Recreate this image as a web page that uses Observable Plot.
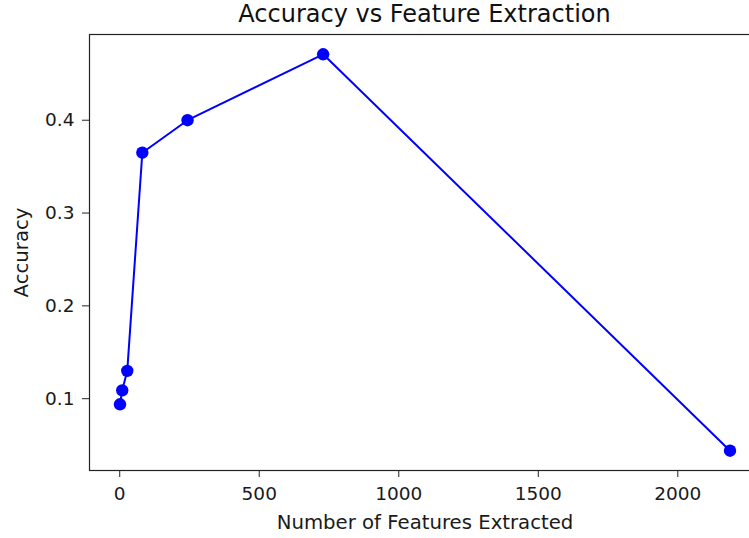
<!DOCTYPE html>
<html>
<head>
<meta charset="utf-8">
<script src="https://cdn.jsdelivr.net/npm/d3@7"></script>
<script src="https://cdn.jsdelivr.net/npm/@observablehq/plot@0.6"></script>
<style>
  html, body { margin: 0; padding: 0; background: #fff; overflow: hidden; width: 749px; height: 538px; }
  #title {
    position: absolute; top: -1px; left: 0; width: 849px; height: 30px;
    text-align: center; font: 24px "DejaVu Sans", sans-serif; line-height: 30px; color: #111;
  }
  #chart { position: absolute; top: 30px; left: 0; width: 762px; }
  #chart svg { max-width: none !important; }
</style>
</head>
<body>
<div id="title">Accuracy vs Feature Extraction</div>
<div id="chart"></div>
<script>
// Number of extracted features and the accuracy obtained with each
const features = [1, 9, 27, 81, 243, 729, 2187];
const accuracy = [0.094, 0.109, 0.13, 0.365, 0.40, 0.471, 0.044];
const xTicks = [0, 500, 1000, 1500, 2000];
const yTicks = [0.1, 0.2, 0.3, 0.4];
const xLabel = "Number of Features Extracted";
const yLabel = "Accuracy";

const data = features.map((f, i) => ({features: f, accuracy: accuracy[i]}));

// 5% padding around the data range on both axes
function padded(values) {
  const [lo, hi] = d3.extent(values);
  const m = (hi - lo) * 0.05;
  return [lo - m, hi + m];
}

const font = "DejaVu Sans, sans-serif";
const ink = "#1a1a1a";

const chart = Plot.plot({
  width: 762,
  height: 508,
  marginLeft: 89,
  marginRight: 2,
  marginTop: 4,
  marginBottom: 68,
  style: {fontFamily: font, color: ink, background: "#fff", maxWidth: "none"},
  x: {domain: padded(features)},
  y: {domain: padded(accuracy)},
  marks: [
    Plot.frame({stroke: "#222", strokeWidth: 1.2}),
    Plot.axisX({ticks: xTicks, tickFormat: d3.format("d"), tickSize: 7, tickPadding: 9,
      fontSize: 18.5, label: null, stroke: "#222"}),
    Plot.axisY({ticks: yTicks, tickFormat: d3.format(".1f"), tickSize: 7, tickPadding: 8,
      fontSize: 18.5, label: null, stroke: "#222"}),
    Plot.text([xLabel], {text: d => d, frameAnchor: "bottom", textAnchor: "middle", lineAnchor: "middle", dy: 52,
      fontSize: 19.7, fill: ink}),
    Plot.text([yLabel], {text: d => d, frameAnchor: "left", textAnchor: "middle", lineAnchor: "middle",
      rotate: -90, dx: -68, fontSize: 19.7, fill: ink}),
    Plot.line(data, {x: "features", y: "accuracy", stroke: "#0000ff", strokeWidth: 2}),
    Plot.dot(data, {x: "features", y: "accuracy", r: 6.2, fill: "#0000ff", stroke: "none"})
  ]
});

document.getElementById("chart").appendChild(chart);
</script>
</body>
</html>
